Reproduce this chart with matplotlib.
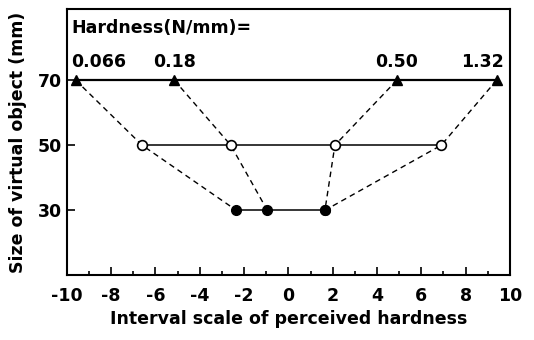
import numpy as np
import matplotlib.pyplot as plt
from matplotlib.ticker import MultipleLocator

plt.rcParams['font.family'] = ['DejaVu Sans']
plt.rcParams['font.weight'] = 'bold'
plt.rcParams['axes.labelweight'] = 'bold'
plt.rcParams['axes.unicode_minus'] = False

# sizes of the virtual object (mm)
sizes = [70, 50, 30]
hardness_labels = ['0.066', '0.18', '0.50', '1.32']

# perceived hardness scale per size, one value per hardness
scale_70 = [-9.6, -5.15, 4.9, 9.4]
scale_50 = [-6.6, -2.6, 2.1, 6.9]
scale_30 = [-2.35, -0.95, 1.65, 1.65]  # two hardest overlap at 30 mm

fig, ax = plt.subplots(figsize=(5.34, 3.4), dpi=100)

# dashed lines link the same hardness across sizes
for i in range(4):
    ax.plot([scale_70[i], scale_50[i], scale_30[i]], sizes,
            color='black', ls=(0, (4, 3)), lw=1.0, zorder=1)

ax.plot(scale_70, [70] * 4, color='black', lw=1.6, marker='^', ms=7,
        mfc='black', zorder=3)
ax.plot(scale_50, [50] * 4, color='black', lw=1.1, marker='o', ms=7,
        mfc='white', mew=1.2, zorder=3)
ax.plot(scale_30, [30] * 4, color='black', lw=1.1, marker='o', ms=7,
        mfc='black', zorder=3)

fs = 12.5
ax.text(-9.8, 86, 'Hardness(N/mm)=', fontsize=fs, va='center', ha='left')
ax.text(-9.8, 75.5, hardness_labels[0], fontsize=fs, va='center', ha='left')
ax.text(scale_70[1], 75.5, hardness_labels[1], fontsize=fs, va='center', ha='center')
ax.text(scale_70[2], 75.5, hardness_labels[2], fontsize=fs, va='center', ha='center')
ax.text(9.7, 75.5, hardness_labels[3], fontsize=fs, va='center', ha='right')

ax.set_xlim(-10, 10)
ax.set_ylim(10, 92)
ax.set_xticks(np.arange(-10, 11, 2))
ax.xaxis.set_minor_locator(MultipleLocator(1))
ax.set_yticks([30, 50, 70])
ax.tick_params(axis='both', which='major', direction='in', length=6, width=1.2,
               labelsize=fs)
ax.tick_params(axis='x', which='minor', direction='in', length=3, width=1.2)
ax.tick_params(axis='x', pad=8)
for s in ax.spines.values():
    s.set_linewidth(1.5)

ax.set_xlabel('Interval scale of perceived hardness', fontsize=fs, labelpad=4)
ax.set_ylabel('Size of virtual object (mm)', fontsize=fs, labelpad=8)

fig.subplots_adjust(left=0.125, right=0.955, top=0.975, bottom=0.19)
fig.savefig('out.png', dpi=100)
